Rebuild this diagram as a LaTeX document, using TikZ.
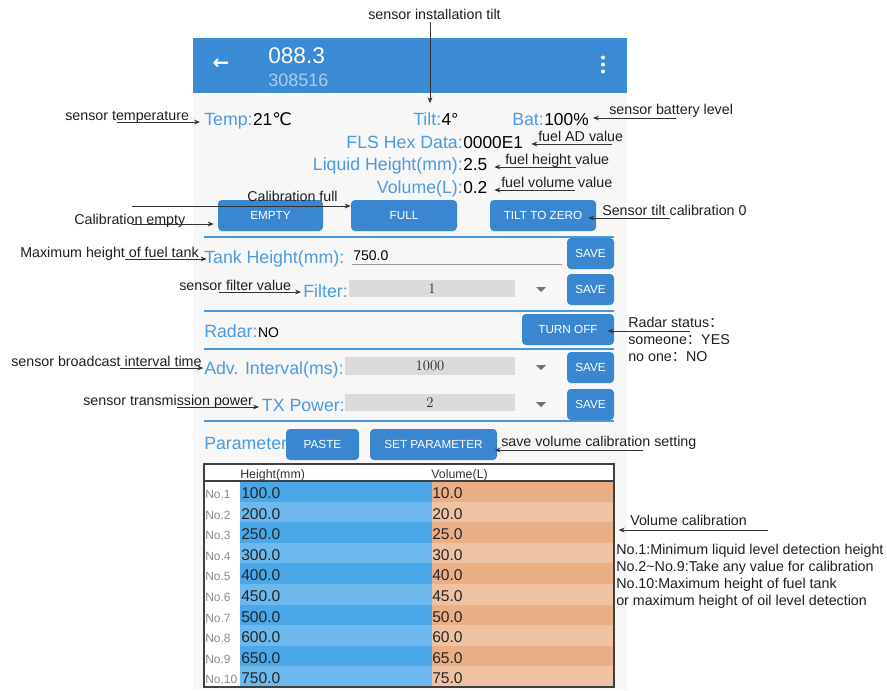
\documentclass[tikz,border=0pt]{standalone}
\usepackage{fontspec}
\setsansfont{Liberation Sans}
\newfontfamily\symfont{DejaVu Sans}
\newfontfamily\cjk{Noto Sans CJK SC}
\usetikzlibrary{arrows.meta,positioning}
\definecolor{hdrblue}{HTML}{3B8AD4}
\definecolor{btnblue}{HTML}{3A86D0}
\definecolor{lblue}{HTML}{4C9BE0}
\definecolor{subblue}{HTML}{A9CDF1}
\definecolor{divblue}{HTML}{4A98DC}
\definecolor{scrbg}{HTML}{F7F7F7}
\definecolor{boxgray}{HTML}{DCDADA}
\definecolor{tblueA}{HTML}{4AA8E8}
\definecolor{tblueB}{HTML}{6DB8EC}
\definecolor{torA}{HTML}{EBAF86}
\definecolor{torB}{HTML}{EEC2A2}
\newcommand\pxu{0.75pt}
\tikzset{
  ann/.style={anchor=base west, inner sep=0pt, text=black!88, font=\sffamily\fontsize{10.7}{12}\selectfont},
  note/.style={draw=black!80, line width=0.75pt, -{Stealth[length=4.5pt,width=3.6pt]}},
  lbl/.style={inner sep=0pt, text=lblue, font=\sffamily\fontsize{13.3}{15}\selectfont},
  val/.style={anchor=base west, inner sep=0pt, text=black, font=\sffamily\fontsize{13}{15}\selectfont},
  sval/.style={anchor=base west, inner sep=0pt, text=black, font=\sffamily\fontsize{10.5}{12}\selectfont},
  hd/.style={inner sep=0pt, text=white},
  btn/.style={fill=btnblue, rounded corners=3pt, text=white, inner sep=0pt,
    font=\sffamily\fontsize{8.8}{10}\selectfont, minimum height=31*\pxu},
  sbox/.style={fill=boxgray, inner sep=0pt, minimum height=17.5*\pxu, text=black!85,
    font=\rmfamily\fontsize{11}{12}\selectfont},
  divline/.style={draw=divblue, line width=1.5pt},
  drop/.style={fill=black!55},
  nocell/.style={anchor=base west, inner sep=0pt, text=black!45, font=\sffamily\fontsize{9}{10}\selectfont},
  cell/.style={anchor=base west, inner sep=0pt, text=black!85, font=\sffamily\fontsize{11.7}{13}\selectfont},
  thead/.style={anchor=base west, inner sep=0pt, text=black!80, font=\sffamily\fontsize{9.3}{10}\selectfont}
}
\begin{document}
\begin{tikzpicture}[x=0.75pt, y=-0.75pt]
\useasboundingbox (0,0) rectangle (887,690);
\fill[scrbg] (193,38) rectangle (627,690);
\fill[hdrblue] (193,38) rectangle (627,93);
\node[hd, font=\symfont\bfseries\fontsize{15}{15}\selectfont] (H_back) at (221,64) {←};
\node[hd, anchor=base west, font=\sffamily\fontsize{17}{18}\selectfont] (H_id) at (268,63) {088.3};
\node[hd, anchor=base west, text=subblue, font=\sffamily\fontsize{13.5}{15}\selectfont] (H_sn) at (268,86) {308516};
\fill[white] (603,57.5) circle (2) (603,64.5) circle (2) (603,71.5) circle (2);
\node[lbl, anchor=base west] (L_temp) at (204,125) {Temp:};
\node[val] (V_temp) at (L_temp.base east) {21{\symfont ℃}};
\node[lbl, anchor=base west] (L_tilt) at (413,125) {Tilt:};
\node[val] (V_tilt) at (L_tilt.base east) {4°};
\node[lbl, anchor=base west] (L_bat) at (512,125) {Bat:};
\node[val] (V_bat) at (L_bat.base east) {100\%};
\node[lbl, anchor=base east] (L_fls) at (463,148) {FLS Hex Data:};
\node[val] (V_fls) at (L_fls.base east) {0000E1};
\node[lbl, anchor=base east] (L_lh) at (463,170) {Liquid Height(mm):};
\node[val] (V_lh) at (L_lh.base east) {2.5};
\node[lbl, anchor=base east] (L_vol) at (463,193) {Volume(L):};
\node[val] (V_vol) at (L_vol.base east) {0.2};
\node[btn, minimum width=105*\pxu] (B_empty) at (270.5,215.5) {EMPTY};
\node[btn, minimum width=106*\pxu] (B_full) at (404,215.5) {FULL};
\node[btn, minimum width=106*\pxu] (B_tilt) at (543,215.5) {TILT TO ZERO};
\draw[divline] (204,237) -- (614,237);
\node[lbl, anchor=base west] (L_tank) at (204,263) {Tank Height(mm):};
\node[sval] (V_tank) at (353,260) {750.0};
\draw[black!40, line width=0.6pt] (352,264) -- (562,264);
\node[btn, minimum width=47*\pxu] (B_save1) at (590.5,253.5) {SAVE};
\node[lbl, anchor=base east] (L_filter) at (348,297) {Filter:};
\node[sbox, minimum width=166*\pxu] (G_filter) at (432,288.5) {1};
\fill[drop] (536,287) -- (546,287) -- (541,292) -- cycle;
\node[btn, minimum width=47*\pxu] (B_save2) at (590.5,289.5) {SAVE};
\draw[divline] (204,311) -- (614,311);
\node[lbl, anchor=base west] (L_radar) at (204,337) {Radar:};
\node[sval] (V_radar) at (L_radar.base east) {NO};
\node[btn, minimum width=92*\pxu] (B_turn) at (568,329.5) {TURN OFF};
\draw[divline] (204,349) -- (614,349);
\node[lbl, anchor=base west] (L_adv) at (204,374) {Adv. Interval(ms):};
\node[sbox, minimum width=170*\pxu] (G_adv) at (430,366) {1000};
\fill[drop] (536,365) -- (546,365) -- (541,370) -- cycle;
\node[btn, minimum width=47*\pxu] (B_save3) at (590.5,367.5) {SAVE};
\node[lbl, anchor=base east] (L_tx) at (345,411) {TX Power:};
\node[sbox, minimum width=170*\pxu] (G_tx) at (430,402.5) {2};
\fill[drop] (536,402) -- (546,402) -- (541,407) -- cycle;
\node[btn, minimum width=47*\pxu] (B_save4) at (590.5,404.5) {SAVE};
\draw[divline] (204,421) -- (614,421);
\node[lbl, anchor=base west] (L_param) at (204,449) {Parameter};
\node[btn, minimum width=73*\pxu] (B_paste) at (322.5,444.5) {PASTE};
\node[btn, minimum width=127*\pxu] (B_setp) at (433.5,444.5) {SET PARAMETER};
\fill[white] (204,464) rectangle (614,481);
\fill[white] (204,481) rectangle (240,687);
\fill[tblueB] (240,481) rectangle (432,687);
\fill[torB] (432,481) rectangle (614,687);
\fill[tblueA] (240,481) rectangle (432,501.6);
\fill[torA] (432,481) rectangle (614,501.6);
\fill[tblueA] (240,522.2) rectangle (432,542.8);
\fill[torA] (432,522.2) rectangle (614,542.8);
\fill[tblueA] (240,563.4) rectangle (432,584);
\fill[torA] (432,563.4) rectangle (614,584);
\fill[tblueA] (240,604.6) rectangle (432,625.2);
\fill[torA] (432,604.6) rectangle (614,625.2);
\fill[tblueA] (240,645.8) rectangle (432,666.4);
\fill[torA] (432,645.8) rectangle (614,666.4);
\node[thead] (T_hh) at (240,478) {Height(mm)};
\node[thead] (T_hv) at (431,478) {Volume(L)};
\node[nocell] (N_1) at (205,498.5) {No.1};
\node[cell] (H_1) at (241,498.5) {100.0};
\node[cell] (V_1) at (432,498.5) {10.0};
\node[nocell] (N_2) at (205,519.1) {No.2};
\node[cell] (H_2) at (241,519.1) {200.0};
\node[cell] (V_2) at (432,519.1) {20.0};
\node[nocell] (N_3) at (205,539.7) {No.3};
\node[cell] (H_3) at (241,539.7) {250.0};
\node[cell] (V_3) at (432,539.7) {25.0};
\node[nocell] (N_4) at (205,560.3) {No.4};
\node[cell] (H_4) at (241,560.3) {300.0};
\node[cell] (V_4) at (432,560.3) {30.0};
\node[nocell] (N_5) at (205,580.9) {No.5};
\node[cell] (H_5) at (241,580.9) {400.0};
\node[cell] (V_5) at (432,580.9) {40.0};
\node[nocell] (N_6) at (205,601.5) {No.6};
\node[cell] (H_6) at (241,601.5) {450.0};
\node[cell] (V_6) at (432,601.5) {45.0};
\node[nocell] (N_7) at (205,622.1) {No.7};
\node[cell] (H_7) at (241,622.1) {500.0};
\node[cell] (V_7) at (432,622.1) {50.0};
\node[nocell] (N_8) at (205,642.7) {No.8};
\node[cell] (H_8) at (241,642.7) {600.0};
\node[cell] (V_8) at (432,642.7) {60.0};
\node[nocell] (N_9) at (205,663.3) {No.9};
\node[cell] (H_9) at (241,663.3) {650.0};
\node[cell] (V_9) at (432,663.3) {65.0};
\node[nocell] (N_10) at (205,683.9) {No.10};
\node[cell] (H_10) at (241,683.9) {750.0};
\node[cell] (V_10) at (432,683.9) {75.0};
\draw[black!75, line width=0.9pt] (204,481) -- (614,481);
\node[draw=black!75, line width=0.9pt, inner sep=0pt, minimum width=410*\pxu, minimum height=223*\pxu] (T_frame) at (409,575.5) {};
\node[ann] (A_tilt) at (368,19) {sensor installation tilt};
\coordinate (s_tilt) at (430,22);
\draw[note, shorten >=6.5pt] (s_tilt) -- (s_tilt |- L_tilt.north);
\node[ann] (A_temp) at (65,120) {sensor temperature};
\coordinate (s_temp) at (117,122);
\draw[note, shorten >=3pt] (s_temp) -- (s_temp -| L_temp.west);
\node[ann] (A_bat) at (609,114) {sensor battery level};
\coordinate (s_bat) at (676,118);
\draw[note, shorten >=3pt] (s_bat) -- (s_bat -| V_bat.east);
\node[ann] (A_fls) at (538,141) {fuel AD value};
\coordinate (s_fls) at (612,144);
\draw[note, shorten >=6pt] (s_fls) -- (s_fls -| V_fls.east);
\node[ann] (A_lh) at (505,164) {fuel height value};
\coordinate (s_lh) at (576,167);
\draw[note, shorten >=5pt] (s_lh) -- (s_lh -| V_lh.east);
\node[ann] (A_vol) at (501,187) {fuel volume value};
\coordinate (s_vol) at (575,190);
\draw[note, shorten >=5pt] (s_vol) -- (s_vol -| V_vol.east);
\node[ann] (A_full) at (247,201) {Calibration full};
\coordinate (s_full) at (132,206);
\draw[note] (s_full) -- (s_full -| B_full.west);
\node[ann] (A_empty) at (74,224) {Calibration empty};
\coordinate (s_empty) at (132,224);
\draw[note, shorten >=3pt] (s_empty) -- (s_empty -| B_empty.west);
\node[ann] (A_tilt0) at (602,215) {Sensor tilt calibration 0};
\coordinate (s_tilt0) at (670,218);
\draw[note, shorten >=-6pt] (s_tilt0) -- (s_tilt0 -| B_tilt.east);
\node[ann] (A_tank) at (20,257) {Maximum height of fuel tank};
\coordinate (s_tank) at (125,259);
\draw[note, shorten >=-2pt] (s_tank) -- (s_tank -| L_tank.west);
\node[ann] (A_filter) at (179,290) {sensor filter value};
\coordinate (s_filter) at (219,292);
\draw[note, shorten >=1.5pt] (s_filter) -- (s_filter -| L_filter.west);
\node[ann] (A_radar) at (628,327) {Radar status{\cjk ：}};
\node[ann] (A_yes) at (628,344) {someone{\cjk ：}YES};
\node[ann] (A_no) at (628,361) {no one{\cjk ：}NO};
\coordinate (s_radar) at (690,331);
\draw[note, shorten >=-5pt] (s_radar) -- (s_radar -| B_turn.east);
\node[ann] (A_adv) at (11,366) {sensor broadcast interval time};
\coordinate (s_adv) at (120,368);
\draw[note, shorten >=0.5pt] (s_adv) -- (s_adv -| L_adv.west);
\node[ann] (A_tx) at (83,405) {sensor transmission power};
\coordinate (s_tx) at (177,407);
\draw[note, shorten >=2pt] (s_tx) -- (s_tx -| L_tx.west);
\node[ann] (A_setp) at (501,446) {save volume calibration setting};
\coordinate (s_setp) at (643,450);
\draw[note, shorten >=-2pt] (s_setp) -- (s_setp -| B_setp.east);
\node[ann] (A_vc) at (630,525) {Volume calibration};
\coordinate (s_vc) at (768,530);
\draw[note, shorten >=3pt] (s_vc) -- (s_vc -| T_frame.east);
\node[ann] (A_no1) at (616,554) {No.1:Minimum liquid level detection height};
\node[ann] (A_no2) at (616,571) {No.2\textasciitilde No.9:Take any value for calibration};
\node[ann] (A_no10) at (616,588) {No.10:Maximum height of fuel tank};
\node[ann] (A_or) at (616,605) {or maximum height of oil level detection};
\end{tikzpicture}
\end{document}
